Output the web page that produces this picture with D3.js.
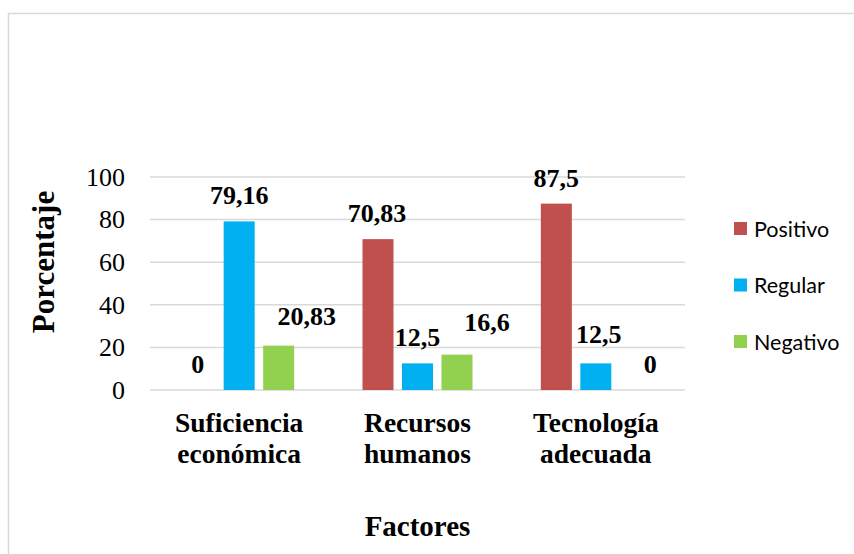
<!DOCTYPE html>
<html>
<head>
<meta charset="utf-8">
<script src="https://cdn.jsdelivr.net/npm/d3@7"></script>
<style>
  body { margin: 0; background: #fff; }
  svg { display: block; }
</style>
</head>
<body>
<svg id="chart"></svg>
<script>
// chart data
const categories = [["Suficiencia", "económica"], ["Recursos", "humanos"], ["Tecnología", "adecuada"]];
const seriesNames = ["Positivo", "Regular", "Negativo"];
const positivo = [0, 70.83, 87.5];
const regular = [79.16, 12.5, 12.5];
const negativo = [20.83, 16.6, 0];
const valueLabels = [["0", "79,16", "20,83"], ["70,83", "12,5", "16,6"], ["87,5", "12,5", "0"]];
const yTicks = [0, 20, 40, 60, 80, 100];
const colors = ["#C0504D", "#00B0F0", "#92D050"];

// label nudges (as placed by hand in the original): [dx, dy]
const labelNudge = [
  [[-2, 0], [0, 0], [28, 4]],
  [[-1, 0], [0, 0], [30, 7]],
  [[0, 0], [3, 3], [15, 0]]
];

const W = 854, H = 554;
const plot = {left: 150, right: 685, top: 177, bottom: 390};
const serif = "'Liberation Serif', 'Times New Roman', serif";

const svg = d3.select("#chart").attr("width", W).attr("height", H);

// outer frame
svg.append("rect")
  .attr("x", 8.5).attr("y", 13.5)
  .attr("width", W + 10).attr("height", H + 10)
  .attr("fill", "none").attr("stroke", "#d9d9d9").attr("stroke-width", 1.5);

const catKeys = categories.map(c => c.join(" "));
const x0 = d3.scaleBand().domain(catKeys).range([plot.left, plot.right]).padding(0);
const groupW = 110;
const x1 = d3.scaleBand().domain(seriesNames)
  .range([(x0.bandwidth() - groupW) / 2, (x0.bandwidth() + groupW) / 2])
  .paddingInner(0.215);
const y = d3.scaleLinear().domain([0, 100]).range([plot.bottom, plot.top]);

// grid
svg.append("g")
  .selectAll("line")
  .data(yTicks)
  .join("line")
    .attr("x1", plot.left).attr("x2", plot.right)
    .attr("y1", d => y(d)).attr("y2", d => y(d))
    .attr("stroke", "#d9d9d9").attr("stroke-width", 1.5);

// y axis labels
const yAxis = svg.append("g")
  .attr("transform", `translate(${plot.left},0)`)
  .call(d3.axisLeft(y).tickValues(yTicks).tickSize(0).tickPadding(25));
yAxis.select(".domain").remove();
yAxis.selectAll("text")
  .attr("font-family", serif)
  .attr("font-size", 26).attr("fill", "#000");

// bars
const series = [positivo, regular, negativo];
const rows = catKeys.map((k, i) => ({
  key: k,
  vals: seriesNames.map((s, j) => ({s, j, v: series[j][i], label: valueLabels[i][j], nudge: labelNudge[i][j]}))
}));

const groups = svg.append("g")
  .selectAll("g")
  .data(rows)
  .join("g")
    .attr("transform", d => `translate(${x0(d.key)},0)`);

groups.selectAll("rect")
  .data(d => d.vals)
  .join("rect")
    .attr("x", d => x1(d.s))
    .attr("y", d => y(d.v))
    .attr("width", x1.bandwidth())
    .attr("height", d => y(0) - y(d.v))
    .attr("fill", d => colors[d.j]);

groups.selectAll("text")
  .data(d => d.vals)
  .join("text")
    .attr("x", d => x1(d.s) + x1.bandwidth() / 2 + d.nudge[0])
    .attr("y", d => y(d.v) - 17 - d.nudge[1])
    .attr("text-anchor", "middle")
    .attr("font-family", serif)
    .attr("font-weight", "bold")
    .attr("font-size", 26)
    .text(d => d.label);

// category labels
const catLabels = svg.append("g")
  .selectAll("text")
  .data(categories)
  .join("text")
    .attr("x", (d, i) => x0(catKeys[i]) + x0.bandwidth() / 2)
    .attr("y", 432)
    .attr("text-anchor", "middle")
    .attr("font-family", serif)
    .attr("font-weight", "bold")
    .attr("font-size", 27.5);
catLabels.selectAll("tspan")
  .data(d => d)
  .join("tspan")
    .attr("x", function() { return d3.select(this.parentNode).attr("x"); })
    .attr("dy", (d, i) => i === 0 ? 0 : 31)
    .text(d => d);

// axis titles
svg.append("text")
  .attr("x", (plot.left + plot.right) / 2)
  .attr("y", 536)
  .attr("text-anchor", "middle")
  .attr("font-family", serif)
  .attr("font-weight", "bold")
  .attr("font-size", 29)
  .text("Factores");

svg.append("text")
  .attr("transform", "translate(54,262) rotate(-90)")
  .attr("text-anchor", "middle")
  .attr("font-family", serif)
  .attr("font-weight", "bold")
  .attr("font-size", 31)
  .text("Porcentaje");

// legend
const legend = svg.append("g")
  .selectAll("g")
  .data(seriesNames)
  .join("g")
    .attr("transform", (d, i) => `translate(734,${229 + i * 56.5})`);
legend.append("rect")
  .attr("x", 0).attr("y", -7)
  .attr("width", 13).attr("height", 13)
  .attr("fill", (d, i) => colors[i]);
legend.append("text")
  .attr("x", 20).attr("y", 0)
  .attr("dy", "0.35em")
  .attr("font-family", "Lato, 'Open Sans', sans-serif")
  .attr("font-size", 21.5)
  .attr("fill", "#000")
  .text(d => d);
</script>
</body>
</html>
